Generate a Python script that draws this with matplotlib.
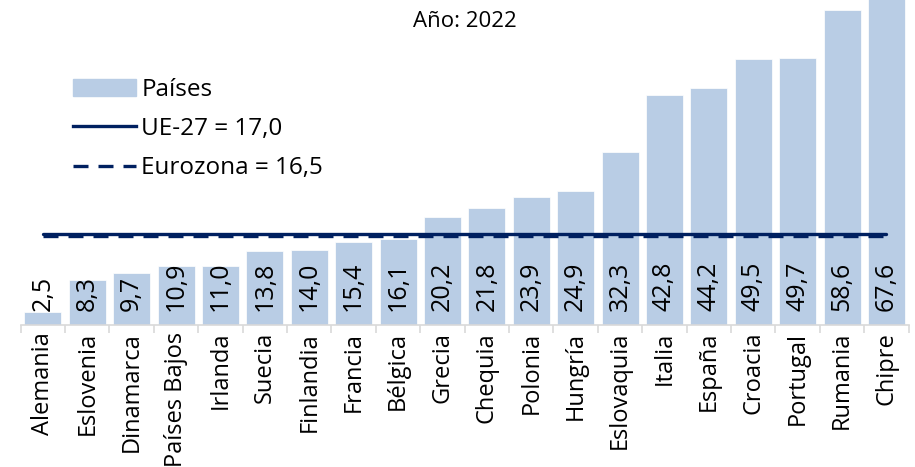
import numpy as np
import matplotlib
matplotlib.use("Agg")
import matplotlib.pyplot as plt
from matplotlib.patches import Patch
from matplotlib.lines import Line2D

# Data
paises = ["Alemania", "Eslovenia", "Dinamarca", "Países Bajos", "Irlanda", "Suecia",
          "Finlandia", "Francia", "Bélgica", "Grecia", "Chequia", "Polonia", "Hungría",
          "Eslovaquia", "Italia", "España", "Croacia", "Portugal", "Rumania", "Chipre"]
valores = [2.5, 8.3, 9.7, 10.9, 11.0, 13.8, 14.0, 15.4, 16.1, 20.2, 21.8, 23.9, 24.9,
           32.3, 42.8, 44.2, 49.5, 49.7, 58.6, 67.6]
ue27 = 17.0
eurozona = 16.5
anio = "2022"

bar_color = "#B9CDE5"
line_color = "#002060"
dash = (0, (4.5, 3))

plt.rcParams['font.family'] = ['Open Sans', 'DejaVu Sans']

fig = plt.figure(figsize=(9.15, 4.67), dpi=100)
ax = fig.add_axes([0.0226, 0.304, 0.9705, 0.696])

x = np.arange(len(paises))
ax.bar(x, valores, width=0.83, color=bar_color, edgecolor="white", linewidth=0.5)

# Reference lines, from first to last bar center
ax.plot([x[0], x[-1]], [eurozona, eurozona], color=line_color, lw=2.4, ls=dash)
ax.plot([x[0], x[-1]], [ue27, ue27], color=line_color, lw=2.4, solid_capstyle="round")

# Value labels inside bars
for xi, v in zip(x, valores):
    ax.text(xi, 2.7, f"{v:.1f}".replace(".", ","), rotation=90, ha="center", va="bottom",
            fontsize=18)

ax.set_xlim(-0.5, len(paises) - 0.5)
ax.set_ylim(0, 60.5)
ax.set_yticks([])
for s in ["top", "right", "left"]:
    ax.spines[s].set_visible(False)
ax.spines["bottom"].set_color("#D9D9D9")
ax.spines["bottom"].set_linewidth(1.2)

ax.set_xticks(x)
ax.set_xticklabels(paises, rotation=90, fontsize=17)
ax.tick_params(axis="x", which="major", length=0, pad=5)
ax.set_xticks(np.arange(-0.5, len(paises)), minor=True)
ax.tick_params(axis="x", which="minor", length=6, color="#D9D9D9", width=1.2)

fig.text(0.508, 0.955, f"Año: {anio}", ha="center", va="center", fontsize=16)

handles = [Patch(color=bar_color, label="Países"),
           Line2D([], [], color=line_color, lw=2.4, label=f"UE-27 = {ue27:.1f}".replace(".", ",")),
           Line2D([], [], color=line_color, lw=2.4, ls=dash,
                  label=f"Eurozona = {eurozona:.1f}".replace(".", ","))]
fig.legend(handles=handles, loc="upper left", bbox_to_anchor=(0.056, 0.88), frameon=False,
           fontsize=17.5, handlelength=2.6, handleheight=0.7, handletextpad=0.2,
           labelspacing=0.62)

fig.savefig("out.png", dpi=100)
